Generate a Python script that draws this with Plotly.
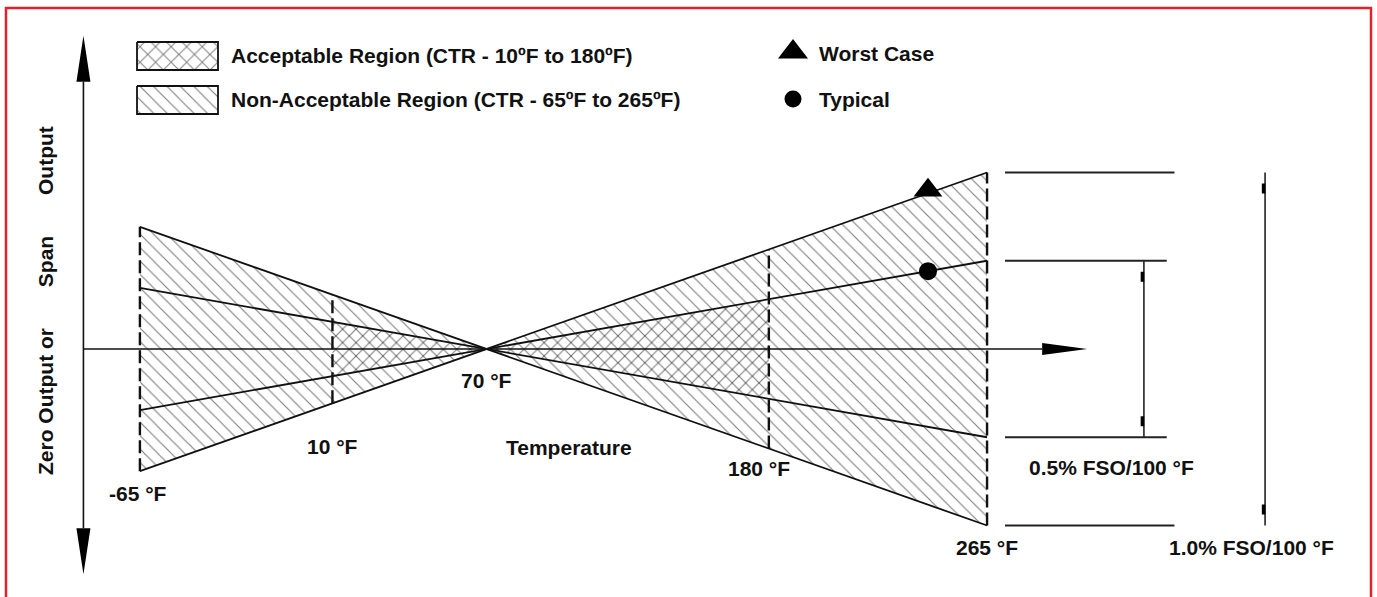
import plotly.graph_objects as go

W, H = 1377, 597

# ---------------- data ----------------
ref_temp = 70                      # °F, zero-drift reference point
ctr_non_acceptable = [-65, 265]    # °F
ctr_acceptable = [10, 180]         # °F
worst_rate = 1.0                   # % FSO / 100 °F
typical_rate = 0.5                 # % FSO / 100 °F
marker_temp = 242                  # °F where the legend symbols sit on the lines
temp_ticks = [-65, 10, 70, 180, 265]
temp_labels = ["-65 °F", "10 °F", "70 °F", "180 °F", "265 °F"]
rate_labels = ["0.5% FSO/100 °F", "1.0% FSO/100 °F"]
legend_labels = ["Acceptable Region (CTR - 10ºF to 180ºF)",
                 "Non-Acceptable Region (CTR - 65ºF to 265ºF)",
                 "Worst Case", "Typical"]
axis_title_x = "Temperature"
axis_title_y = "Zero Output or" + "\u00a0" * 7 + "Span" + "\u00a0" * 7 + "Output"

# ---------------- layout constants ----------------
X_RANGE = [-119.5, 416.9]
Y_RANGE = [-2.740, 3.856]
AXIS_T = -87.0           # temperature where vertical axis is drawn
V_TIP_TOP, V_TIP_BOT = 3.46, -2.49
H_TIP = 304.0
DIM_X0, DIM_X1_W, DIM_X1_T = 272.0, 338.0, 335.0
DIM_V_W, DIM_V_T = 373.3, 326.1

FONT = "Liberation Sans, Arial, Helvetica, sans-serif"
FS = 21
INK = "#111111"

def dx(px):
    return px * (X_RANGE[1] - X_RANGE[0]) / W

def dy(px):
    return px * (Y_RANGE[1] - Y_RANGE[0]) / H

def env(t, rate):
    return rate * abs(t - ref_temp) / 100.0

def line(t, rate, sign):
    return sign * rate * (t - ref_temp) / 100.0

HATCH = dict(size=9.5, solidity=0.12, fgcolor="#000000", bgcolor="rgba(255,255,255,0)")

fig = go.Figure()

# ---- hatched regions ----
lo, hi = ctr_non_acceptable
fig.add_trace(go.Scatter(
    x=[lo, ref_temp, lo, lo, None, ref_temp, hi, hi, ref_temp],
    y=[env(lo, worst_rate), 0, -env(lo, worst_rate), env(lo, worst_rate), None,
       0, env(hi, worst_rate), -env(hi, worst_rate), 0],
    fill="toself", mode="none", fillcolor="rgba(255,255,255,0)",
    fillpattern=dict(shape="\\", **HATCH),
    hoverinfo="skip", showlegend=False))
alo, ahi = ctr_acceptable
fig.add_trace(go.Scatter(
    x=[alo, ref_temp, alo, alo, None, ref_temp, ahi, ahi, ref_temp],
    y=[env(alo, typical_rate), 0, -env(alo, typical_rate), env(alo, typical_rate), None,
       0, env(ahi, typical_rate), -env(ahi, typical_rate), 0],
    fill="toself", mode="none", fillcolor="rgba(255,255,255,0)",
    fillpattern=dict(shape="/", **HATCH),
    hoverinfo="skip", showlegend=False))

# ---- dashed temperature limits ----
for t in [lo, alo, ahi, hi]:
    e = env(t, worst_rate)
    fig.add_trace(go.Scatter(x=[t, t], y=[-e, e], mode="lines",
                             line=dict(color=INK, width=2.4, dash="13px,5px"),
                             hoverinfo="skip", showlegend=False))

# ---- drift lines ----
for rate in (worst_rate, typical_rate):
    for sign in (1, -1):
        fig.add_trace(go.Scatter(x=[lo, hi], y=[line(lo, rate, sign), line(hi, rate, sign)],
                                 mode="lines", line=dict(color=INK, width=1.8),
                                 hoverinfo="skip", showlegend=False))

# ---- axes with arrows ----
head_len_v, head_half_v = dy(46), dx(7)
head_len_h, head_half_h = dx(45), dy(6)
fig.add_trace(go.Scatter(x=[AXIS_T, AXIS_T], y=[V_TIP_BOT + head_len_v, V_TIP_TOP - head_len_v],
                         mode="lines", line=dict(color=INK, width=1.6),
                         hoverinfo="skip", showlegend=False))
fig.add_trace(go.Scatter(x=[AXIS_T, H_TIP - head_len_h], y=[0, 0],
                         mode="lines", line=dict(color=INK, width=1.6),
                         hoverinfo="skip", showlegend=False))
arrow_x = [AXIS_T, AXIS_T - head_half_v, AXIS_T + head_half_v, AXIS_T, None,
           AXIS_T, AXIS_T - head_half_v, AXIS_T + head_half_v, AXIS_T, None,
           H_TIP, H_TIP - head_len_h, H_TIP - head_len_h, H_TIP]
arrow_y = [V_TIP_TOP, V_TIP_TOP - head_len_v, V_TIP_TOP - head_len_v, V_TIP_TOP, None,
           V_TIP_BOT, V_TIP_BOT + head_len_v, V_TIP_BOT + head_len_v, V_TIP_BOT, None,
           0, head_half_h, -head_half_h, 0]
fig.add_trace(go.Scatter(x=arrow_x, y=arrow_y, fill="toself", mode="none",
                         fillcolor="black", hoverinfo="skip", showlegend=False))

# ---- dimension lines on the right ----
ew, et = env(hi, worst_rate), env(hi, typical_rate)
for v, x1 in [(ew, DIM_X1_W), (-ew, DIM_X1_W), (et, DIM_X1_T), (-et, DIM_X1_T)]:
    fig.add_trace(go.Scatter(x=[DIM_X0, x1], y=[v, v], mode="lines",
                             line=dict(color="#222", width=1.8),
                             hoverinfo="skip", showlegend=False))
for xv, e in [(DIM_V_W, ew), (DIM_V_T, et)]:
    fig.add_trace(go.Scatter(x=[xv, xv], y=[-e, e], mode="lines",
                             line=dict(color="#222", width=1.6),
                             hoverinfo="skip", showlegend=False))
    for s in (1, -1):
        fig.add_trace(go.Scatter(x=[xv - dx(1.5), xv - dx(1.5)],
                                 y=[s * (e - dy(11)), s * (e - dy(21))], mode="lines",
                                 line=dict(color="black", width=3.5),
                                 hoverinfo="skip", showlegend=False))

# ---- markers on the lines ----
fig.add_trace(go.Scatter(x=[marker_temp], y=[line(marker_temp, worst_rate, 1) + dy(3)],
                         mode="markers", marker=dict(symbol="triangle-up", size=25, color="black"),
                         hoverinfo="skip", showlegend=False))
fig.add_trace(go.Scatter(x=[marker_temp], y=[line(marker_temp, typical_rate, 1)],
                         mode="markers", marker=dict(symbol="circle", size=18, color="black"),
                         hoverinfo="skip", showlegend=False))

# ---- legend (drawn on a pixel overlay axis) ----
fig.add_trace(go.Scatter(x=[137, 218, 218, 137, 137], y=[42, 42, 70, 70, 42],
                         xaxis="x2", yaxis="y2", fill="toself", mode="lines",
                         line=dict(color=INK, width=1.8), fillcolor="rgba(255,255,255,0)",
                         fillpattern=dict(shape="x", size=11, solidity=0.17, fgcolor="#000",
                                          bgcolor="rgba(255,255,255,0)"),
                         hoverinfo="skip", showlegend=False))
fig.add_trace(go.Scatter(x=[137, 218, 218, 137, 137], y=[86, 86, 114, 114, 86],
                         xaxis="x2", yaxis="y2", fill="toself", mode="lines",
                         line=dict(color=INK, width=1.8), fillcolor="rgba(255,255,255,0)",
                         fillpattern=dict(shape="\\", size=9.5, solidity=0.12, fgcolor="#000",
                                          bgcolor="rgba(255,255,255,0)"),
                         hoverinfo="skip", showlegend=False))
fig.add_trace(go.Scatter(x=[793], y=[52], xaxis="x2", yaxis="y2", mode="markers",
                         marker=dict(symbol="triangle-up", size=26, color="black"),
                         hoverinfo="skip", showlegend=False))
fig.add_trace(go.Scatter(x=[793], y=[99], xaxis="x2", yaxis="y2", mode="markers",
                         marker=dict(symbol="circle", size=17, color="black"),
                         hoverinfo="skip", showlegend=False))

def ann(text, x, y, xref="x2", yref="y2", xanchor="center", yanchor="middle", angle=0, xshift=0):
    fig.add_annotation(text=text, x=x, y=y, xref=xref, yref=yref, showarrow=False,
                       xanchor=xanchor, yanchor=yanchor, textangle=angle, xshift=xshift,
                       font=dict(family=FONT, size=FS, color=INK, weight="bold"))

ann(legend_labels[0], 229, 55, xanchor="left")
ann(legend_labels[1], 229, 99, xanchor="left")
ann(legend_labels[2], 817, 53, xanchor="left")
ann(legend_labels[3], 817, 99, xanchor="left")

# temperature labels (x in °F, y in pixel overlay)
label_y = {-65: 493, 10: 446, 70: 380, 180: 468, 265: 547}
label_shift = {-65: -2, 10: 0, 70: 0, 180: -10, 265: 0}
for t, lab in zip(temp_ticks, temp_labels):
    ann(lab, t, label_y[t], xref="x", yref="y2", xshift=label_shift[t])
ann(axis_title_x, 569, 447)
ann(rate_labels[0], 1111, 467)
ann(rate_labels[1], 1251, 547)
ann(axis_title_y, 45, 301, angle=-90)

# ---- red frame ----
fig.add_shape(type="rect", xref="paper", yref="paper",
              x0=6 / W, x1=1371 / W, y0=-0.02, y1=1 - 8 / H,
              line=dict(color="#e2202e", width=2.5), fillcolor="rgba(0,0,0,0)")

fig.update_layout(
    width=W, height=H, margin=dict(l=0, r=0, t=0, b=0),
    paper_bgcolor="white", plot_bgcolor="white", showlegend=False,
    xaxis=dict(range=X_RANGE, visible=False, fixedrange=True),
    yaxis=dict(range=Y_RANGE, visible=False, fixedrange=True),
    xaxis2=dict(range=[0, W], visible=False, overlaying="x", fixedrange=True),
    yaxis2=dict(range=[H, 0], visible=False, overlaying="y", fixedrange=True),
)

fig.write_html("out.html", config={"displayModeBar": False},
               post_script="document.body.style.margin='0';document.body.style.overflow='hidden';")
